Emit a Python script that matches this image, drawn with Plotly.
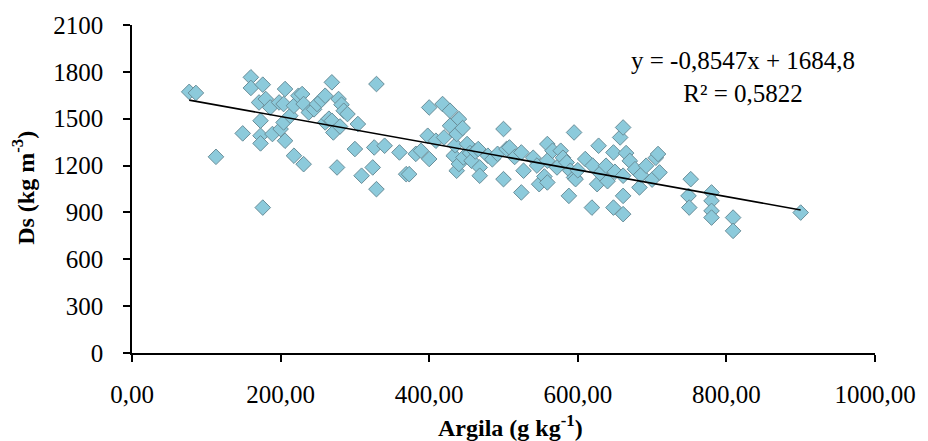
import plotly.graph_objects as go

# ---- data ----
argila = [
    77, 86, 113, 149, 160, 160, 171, 173, 173, 173, 176, 176, 180, 186, 189, 198,
    200, 204, 204, 206, 206, 213, 218, 218, 224, 229, 231, 231, 238, 245, 249, 255,
    260, 260, 265, 269, 269, 271, 276, 278, 280, 282, 285, 290, 300, 304, 309, 324,
    326, 329, 329, 340, 360, 369, 373, 382, 389, 398, 400, 400, 409, 418, 420, 428,
    428, 433, 435, 437, 437, 440, 440, 445, 446, 451, 455, 457, 462, 466, 468, 468,
    479, 485, 492, 500, 500, 504, 508, 515, 524, 524, 527, 540, 545, 548, 555, 559,
    559, 559, 566, 572, 577, 580, 585, 588, 590, 595, 595, 597, 600, 610, 619, 620,
    626, 628, 630, 638, 640, 648, 648, 650, 657, 661, 661, 661, 661, 665, 670, 677,
    683, 685, 692, 700, 705, 708, 710, 749, 750, 752, 780, 780, 780, 780, 809, 809,
    900,
]
ds = [
    1672, 1665, 1256, 1406, 1765, 1697, 1604, 1487, 1391, 1342, 1718, 931, 1626, 1572, 1402, 1604,
    1434, 1594, 1476, 1690, 1359, 1519, 1583, 1263, 1647, 1658, 1594, 1209, 1540, 1560, 1594, 1620,
    1647, 1476, 1500, 1733, 1487, 1412, 1188, 1626, 1450, 1590, 1551, 1530, 1306, 1466, 1135, 1188,
    1316, 1722, 1049, 1327, 1284, 1145, 1145, 1275, 1295, 1391, 1572, 1242, 1359, 1594, 1380, 1551,
    1455, 1263, 1330, 1402, 1167, 1498, 1210, 1440, 1252, 1338, 1280, 1231, 1290, 1306, 1188, 1135,
    1263, 1240, 1275, 1434, 1113, 1306, 1316, 1255, 1284, 1028, 1167, 1250, 1200, 1081, 1130, 1092,
    1338, 1231, 1295, 1188, 1295, 1250, 1220, 1006, 1167, 1412, 1124, 1113, 1170, 1242, 931, 1200,
    1081, 1327, 1150, 1199, 1100, 1284, 931, 1160, 1380, 1444, 1135, 1006, 889, 1280, 1230, 1177,
    1060, 1140, 1199, 1110, 1250, 1274, 1156, 1006, 931, 1113, 1028, 974, 910, 867, 867, 782,
    899,
]

slope = -0.8547
intercept = 1684.8
equation_text = "y = -0,8547x + 1684,8<br>R² = 0,5822"

x_ticks = [0, 200, 400, 600, 800, 1000]
y_ticks = [0, 300, 600, 900, 1200, 1500, 1800, 2100]

x_title = "Argila (g kg<sup>-1</sup>)"
y_title = "Ds (kg m<sup>-3</sup>)"

FONT = "Liberation Serif, Times New Roman, serif"
FS = 25

trend_x = [min(argila), max(argila)]
trend_y = [slope * v + intercept for v in trend_x]

fig = go.Figure()
fig.add_trace(go.Scatter(
    x=argila, y=ds, mode="markers",
    marker=dict(symbol="diamond", size=12, color="#8CCADB",
                line=dict(color="#6A8E99", width=1)),
    showlegend=False, hoverinfo="x+y",
))
fig.add_trace(go.Scatter(
    x=trend_x, y=trend_y, mode="lines",
    line=dict(color="black", width=1.6),
    showlegend=False, hoverinfo="skip",
))

fig.update_layout(
    width=928, height=441,
    margin=dict(l=132, r=45, t=24, b=88),
    plot_bgcolor="white", paper_bgcolor="white",
    separators=",.",
    font=dict(family=FONT, size=FS, color="black"),
    xaxis=dict(
        range=[0, 1000], tickvals=x_ticks, tickformat=".2f",
        showgrid=False, zeroline=False, showline=True, linecolor="black", linewidth=1.5,
        ticks="outside", ticklen=7, tickwidth=1.5, tickcolor="black",
        ticklabelstandoff=11,
        tickfont=dict(family=FONT, size=FS, color="black"),
    ),
    yaxis=dict(
        range=[0, 2100], tickvals=y_ticks, tickformat="d",
        showgrid=False, zeroline=False, showline=True, linecolor="black", linewidth=1.5,
        ticks="outside", ticklen=7, tickwidth=1.5, tickcolor="black",
        ticklabelstandoff=15,
        tickfont=dict(family=FONT, size=FS, color="black"),
    ),
    annotations=[
        dict(text=equation_text, xref="paper", yref="paper", x=0.823, y=0.84,
             xanchor="center", yanchor="middle", showarrow=False,
             font=dict(family=FONT, size=FS, color="black"), align="center"),
        dict(text="<b>" + x_title + "</b>", xref="paper", yref="paper", x=0.51, y=-0.222,
             xanchor="center", yanchor="middle", showarrow=False,
             font=dict(family=FONT, size=FS - 1, color="black")),
        dict(text="<b>" + y_title + "</b>", xref="paper", yref="paper", x=-0.1465, y=0.504,
             xanchor="center", yanchor="middle", showarrow=False, textangle=-90,
             font=dict(family=FONT, size=FS - 1, color="black")),
    ],
)

fig.write_html("out.html")
